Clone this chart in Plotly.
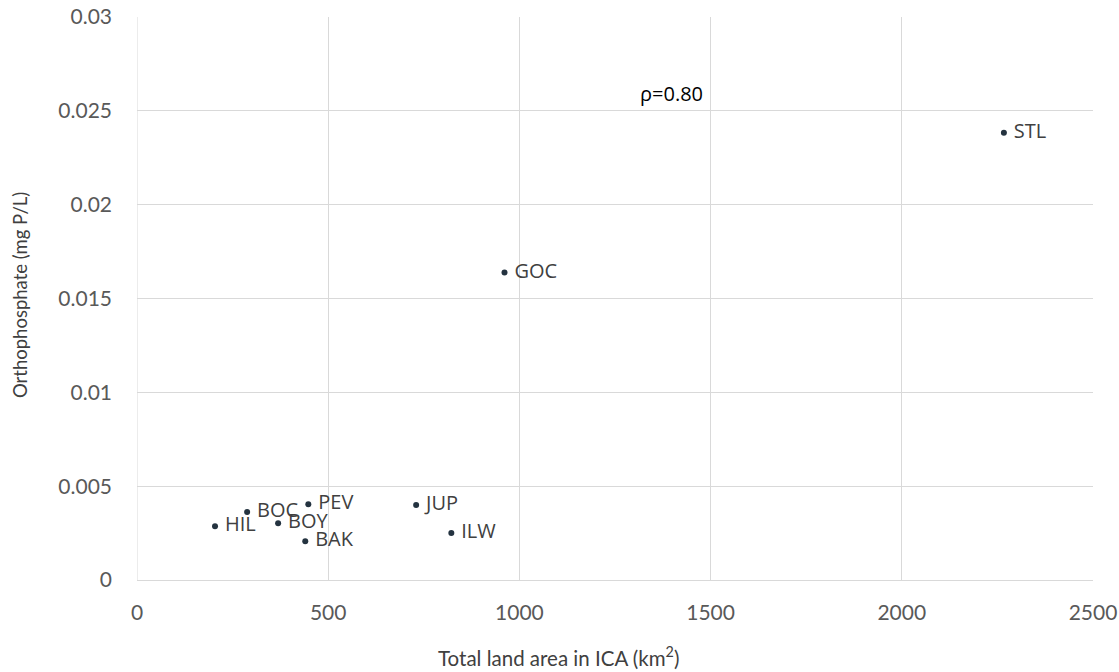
import plotly.graph_objects as go

# Sites: total land area in the ICA (km²) vs mean orthophosphate (mg P/L)
sites = ["HIL", "BOC", "BOY", "PEV", "BAK", "JUP", "ILW", "GOC", "STL"]
land_area_km2 = [204, 288, 369, 448, 440, 730, 822, 961, 2267]
orthophosphate = [0.00287, 0.00362, 0.00303, 0.00404, 0.00207, 0.00399, 0.0025, 0.01638, 0.02383]

x_ticks = [0, 500, 1000, 1500, 2000, 2500]
y_ticks = [0, 0.005, 0.01, 0.015, 0.02, 0.025, 0.03]
y_tick_text = ["0", "0.005", "0.01", "0.015", "0.02", "0.025", "0.03"]

label_font = dict(family="Open Sans, sans-serif", size=20, color="#404040")
tick_font = dict(family="Lato, sans-serif", size=21, color="#595959")
title_color = "#404040"

fig = go.Figure()
fig.add_trace(go.Scatter(
    x=land_area_km2,
    y=orthophosphate,
    mode="markers+text",
    text=[" " + s for s in sites],
    textposition="middle right",
    textfont=label_font,
    marker=dict(size=6, color="#243340"),
    cliponaxis=False,
    showlegend=False,
))

# correlation coefficient
fig.add_annotation(
    x=1310, y=0.0259, xref="x", yref="y",
    text="ρ=0.80", showarrow=False, xanchor="left", yanchor="middle",
    font=dict(family="Open Sans, sans-serif", size=20, color="#000000"),
)

# axis titles
fig.add_annotation(
    x=0.4414, y=-0.1350, xref="paper", yref="paper",
    text="Total land area in ICA (km<sup>2</sup>)", showarrow=False,
    xanchor="center", yanchor="middle",
    font=dict(family="Lato, sans-serif", size=20.5, color=title_color),
)
fig.add_annotation(
    x=-0.1224, y=0.506, xref="paper", yref="paper",
    text="Orthophosphate (mg P/L)", showarrow=False, textangle=-90,
    xanchor="center", yanchor="middle",
    font=dict(family="Lato, sans-serif", size=18.5, color=title_color),
)

fig.update_layout(
    width=1119, height=672,
    margin=dict(l=137, r=26, t=17, b=92),
    paper_bgcolor="white",
    plot_bgcolor="white",
    xaxis=dict(
        range=[0, 2500],
        tickvals=x_ticks,
        tickfont=tick_font,
        showgrid=True, gridcolor="#d9d9d9", gridwidth=1,
        zeroline=False,
        showline=True, linecolor="#d9d9d9", linewidth=1,
        ticks="", ticklabelstandoff=14,
        automargin=False,
    ),
    yaxis=dict(
        range=[0, 0.03],
        tickvals=y_ticks,
        ticktext=y_tick_text,
        tickfont=tick_font,
        showgrid=True, gridcolor="#d9d9d9", gridwidth=1,
        zeroline=False,
        showline=False,
        ticks="", ticklabelstandoff=24,
        automargin=False,
    ),
)

# left frame edge at x=0
fig.add_shape(type="line", xref="x", yref="paper", x0=0, x1=0, y0=0, y1=1,
              line=dict(color="#d9d9d9", width=1), layer="below")

fig.write_html("out.html")
